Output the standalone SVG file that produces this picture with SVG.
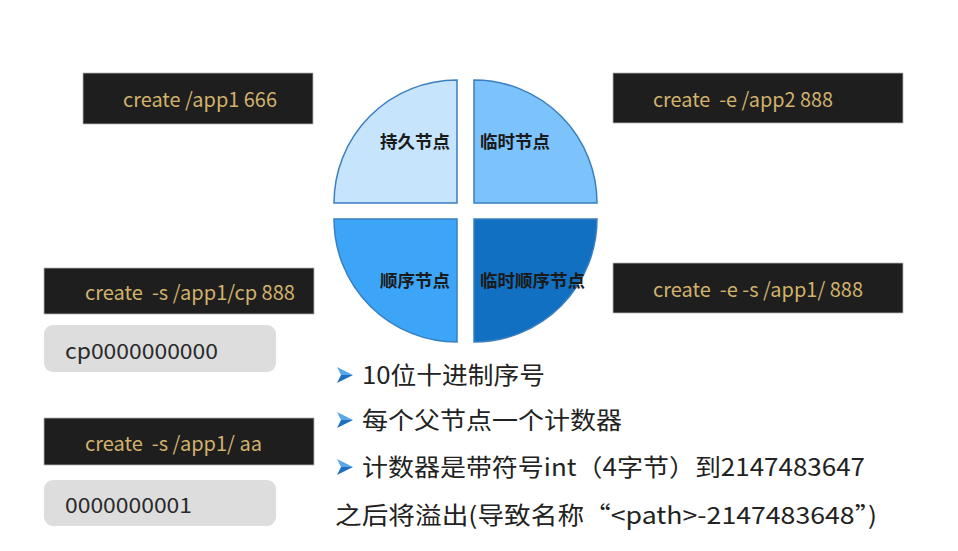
<svg xmlns="http://www.w3.org/2000/svg" width="958" height="551" viewBox="0 0 958 551">
<style>
.cmd{fill:#1e1e1e;stroke:#b5b5b5;stroke-width:0.8}
.cmdt{fill:#d2b26c;font-family:"Noto Sans CJK SC","Open Sans",sans-serif;font-size:20px;white-space:pre}
.res{fill:#dddddd}
.rest{fill:#2a2a2a;font-family:"Noto Sans CJK SC","Open Sans",sans-serif;font-size:21px}
.q{stroke:#3a7fbf;stroke-width:1.5}
.ql{fill:#1a1a1a;font-family:"Noto Sans CJK SC",sans-serif;font-size:17.5px;font-weight:bold}
.bt{fill:#222;font-family:"Noto Sans CJK SC",sans-serif;font-size:24px}
.arr1{fill:#1f6fc0}
.arr2{fill:#5aa7e8}
</style>
<rect width="958" height="551" fill="#ffffff"/>
<g id="quadrants">
<g id="q-persistent"><path class="q" fill="#c6e4fc" d="M457,203 L334,203 A123,123 0 0 1 457,80 Z"/><text class="ql" x="450" y="148" text-anchor="end">持久节点</text></g>
<g id="q-ephemeral"><path class="q" fill="#7cc3fc" d="M474,203 L474,80 A123,123 0 0 1 597,203 Z"/><text class="ql" x="480" y="148">临时节点</text></g>
<g id="q-sequential"><path class="q" fill="#3ca5f7" d="M457,219 L457,342 A123,123 0 0 1 334,219 Z"/><text class="ql" x="450" y="287" text-anchor="end">顺序节点</text></g>
<g id="q-ephseq"><path class="q" fill="#1170c1" d="M474,219 L597,219 A123,123 0 0 1 474,342 Z"/><text class="ql" x="480" y="287">临时顺序节点</text></g>
</g>
<g id="cmd1"><rect class="cmd" x="83" y="73" width="230" height="51"/><text class="cmdt" x="123" y="107" textLength="154" lengthAdjust="spacingAndGlyphs">create /app1 666</text></g>
<g id="cmd2"><rect class="cmd" x="613" y="73" width="290" height="50"/><text class="cmdt" x="653" y="107" textLength="180" lengthAdjust="spacingAndGlyphs">create  -e /app2 888</text></g>
<g id="cmd3"><rect class="cmd" x="613" y="263" width="290" height="50"/><text class="cmdt" x="653" y="297" textLength="210" lengthAdjust="spacingAndGlyphs">create  -e -s /app1/ 888</text></g>
<g id="cmd4"><rect class="cmd" x="44" y="268" width="270" height="46"/><text class="cmdt" x="85" y="300" textLength="210" lengthAdjust="spacingAndGlyphs">create  -s /app1/cp 888</text></g>
<g id="res1"><rect class="res" x="44" y="325" width="232" height="47" rx="9"/><text class="rest" x="65" y="359" textLength="153" lengthAdjust="spacingAndGlyphs">cp0000000000</text></g>
<g id="cmd5"><rect class="cmd" x="44" y="418" width="270" height="47"/><text class="cmdt" x="85" y="451" textLength="177" lengthAdjust="spacingAndGlyphs">create  -s /app1/ aa</text></g>
<g id="res2"><rect class="res" x="44" y="480" width="232" height="46" rx="9"/><text class="rest" x="65" y="513" textLength="127" lengthAdjust="spacingAndGlyphs">0000000001</text></g>
<g id="bullets">
<g id="b1"><polygon class="arr2" points="337,367 353,375 341,375"/><polygon class="arr1" points="341,375 353,375 337,383"/><text class="bt" x="362" y="384" textLength="183" lengthAdjust="spacingAndGlyphs">10位十进制序号</text></g>
<g id="b2"><polygon class="arr2" points="337,412 353,420 341,420"/><polygon class="arr1" points="341,420 353,420 337,428"/><text class="bt" x="362" y="429" textLength="260" lengthAdjust="spacingAndGlyphs">每个父节点一个计数器</text></g>
<g id="b3"><polygon class="arr2" points="337,459 353,467 341,467"/><polygon class="arr1" points="341,467 353,467 337,475"/><text class="bt" x="362" y="476" textLength="503" lengthAdjust="spacingAndGlyphs">计数器是带符号int（4字节）到2147483647</text></g>
<text class="bt" x="335" y="524" textLength="542" lengthAdjust="spacingAndGlyphs">之后将溢出(导致名称“&lt;path&gt;-2147483648”)</text>
</g>
</svg>
